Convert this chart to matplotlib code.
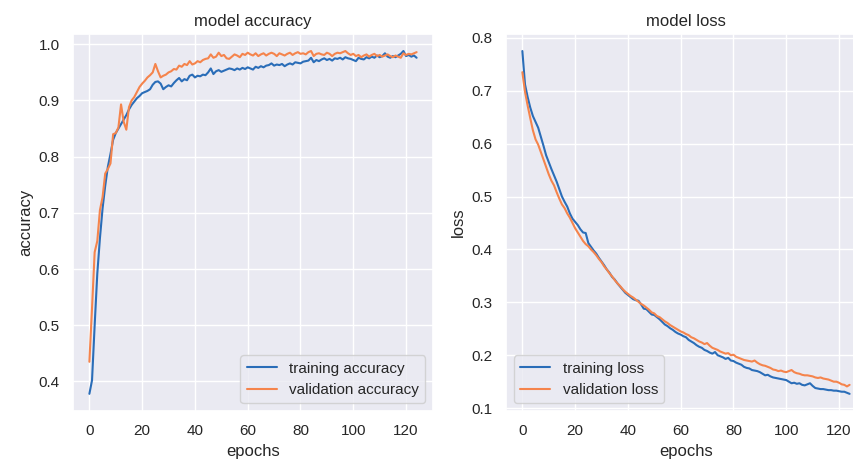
import numpy as np
import matplotlib
matplotlib.use("Agg")
import matplotlib.pyplot as plt
import seaborn as sns

sns.set_theme(style="darkgrid")
plt.rcParams['font.family'] = ['Liberation Sans', 'DejaVu Sans']

# training history, one value per epoch (0..124)
acc = [0.378, 0.402, 0.500, 0.592, 0.655, 0.708, 0.748, 0.782, 0.805, 0.830,
       0.842, 0.850, 0.858, 0.866, 0.874, 0.884, 0.892, 0.898, 0.904, 0.908,
       0.913, 0.915, 0.917, 0.920, 0.928, 0.933, 0.934, 0.930, 0.920, 0.924,
       0.927, 0.925, 0.931, 0.936, 0.940, 0.934, 0.938, 0.936, 0.944, 0.946,
       0.941, 0.944, 0.943, 0.946, 0.945, 0.950, 0.957, 0.947, 0.952, 0.954,
       0.951, 0.953, 0.955, 0.957, 0.956, 0.954, 0.957, 0.955, 0.958, 0.956,
       0.959, 0.957, 0.955, 0.960, 0.958, 0.961, 0.959, 0.962, 0.963, 0.966,
       0.962, 0.964, 0.963, 0.965, 0.961, 0.964, 0.966, 0.964, 0.968, 0.967,
       0.966, 0.969, 0.970, 0.971, 0.976, 0.968, 0.972, 0.970, 0.973, 0.975,
       0.972, 0.974, 0.971, 0.975, 0.974, 0.976, 0.973, 0.977, 0.975, 0.974,
       0.972, 0.970, 0.976, 0.974, 0.973, 0.977, 0.975, 0.978, 0.976, 0.980,
       0.977, 0.979, 0.984, 0.978, 0.976, 0.979, 0.977, 0.980, 0.983, 0.988,
       0.979, 0.981, 0.978, 0.980, 0.976]
val_acc = [0.435, 0.530, 0.630, 0.650, 0.705, 0.728, 0.770, 0.778, 0.788, 0.840,
           0.842, 0.852, 0.893, 0.862, 0.848, 0.888, 0.900, 0.906, 0.915, 0.924,
           0.930, 0.935, 0.941, 0.945, 0.950, 0.965, 0.952, 0.941, 0.944, 0.946,
           0.950, 0.952, 0.956, 0.955, 0.962, 0.960, 0.965, 0.963, 0.970, 0.964,
           0.966, 0.970, 0.968, 0.972, 0.974, 0.975, 0.982, 0.976, 0.978, 0.985,
           0.979, 0.981, 0.975, 0.974, 0.978, 0.982, 0.980, 0.977, 0.983, 0.981,
           0.985, 0.982, 0.980, 0.984, 0.979, 0.982, 0.984, 0.980, 0.983, 0.985,
           0.983, 0.979, 0.984, 0.982, 0.980, 0.983, 0.985, 0.981, 0.984, 0.986,
           0.983, 0.984, 0.982, 0.986, 0.988, 0.979, 0.983, 0.984, 0.982, 0.981,
           0.985, 0.983, 0.979, 0.983, 0.985, 0.984, 0.986, 0.988, 0.984, 0.981,
           0.983, 0.979, 0.981, 0.977, 0.980, 0.982, 0.978, 0.981, 0.983, 0.979,
           0.981, 0.978, 0.980, 0.982, 0.979, 0.977, 0.980, 0.978, 0.976, 0.984,
           0.981, 0.983, 0.982, 0.984, 0.986]
loss = [0.775, 0.712, 0.688, 0.668, 0.652, 0.641, 0.630, 0.613, 0.596, 0.578,
        0.565, 0.552, 0.540, 0.528, 0.514, 0.500, 0.490, 0.481, 0.468, 0.458,
        0.452, 0.446, 0.438, 0.432, 0.431, 0.412, 0.405, 0.398, 0.392, 0.384,
        0.377, 0.370, 0.362, 0.356, 0.348, 0.343, 0.336, 0.330, 0.324, 0.318,
        0.314, 0.310, 0.306, 0.304, 0.303, 0.296, 0.288, 0.287, 0.282, 0.277,
        0.276, 0.272, 0.268, 0.263, 0.258, 0.255, 0.251, 0.248, 0.244, 0.241,
        0.239, 0.236, 0.234, 0.229, 0.226, 0.223, 0.219, 0.216, 0.214, 0.210,
        0.208, 0.205, 0.203, 0.206, 0.200, 0.198, 0.196, 0.193, 0.195, 0.190,
        0.189, 0.186, 0.184, 0.182, 0.178, 0.176, 0.175, 0.172, 0.171, 0.170,
        0.168, 0.165, 0.162, 0.163, 0.160, 0.158, 0.157, 0.156, 0.155, 0.154,
        0.153, 0.150, 0.147, 0.148, 0.146, 0.147, 0.144, 0.143, 0.145, 0.147,
        0.142, 0.138, 0.137, 0.136, 0.136, 0.135, 0.134, 0.134, 0.133, 0.133,
        0.132, 0.131, 0.131, 0.129, 0.127]
val_loss = [0.735, 0.698, 0.672, 0.648, 0.625, 0.608, 0.598, 0.584, 0.570, 0.556,
            0.542, 0.530, 0.521, 0.508, 0.496, 0.485, 0.478, 0.468, 0.460, 0.450,
            0.440, 0.432, 0.424, 0.416, 0.410, 0.406, 0.400, 0.395, 0.389, 0.382,
            0.376, 0.368, 0.362, 0.355, 0.349, 0.342, 0.336, 0.331, 0.325, 0.320,
            0.316, 0.312, 0.309, 0.305, 0.301, 0.297, 0.294, 0.290, 0.286, 0.281,
            0.279, 0.274, 0.272, 0.268, 0.264, 0.261, 0.257, 0.254, 0.251, 0.248,
            0.245, 0.243, 0.240, 0.238, 0.234, 0.232, 0.229, 0.226, 0.224, 0.221,
            0.223, 0.218, 0.214, 0.212, 0.210, 0.207, 0.205, 0.203, 0.204, 0.200,
            0.201, 0.197, 0.195, 0.193, 0.191, 0.190, 0.189, 0.188, 0.190, 0.186,
            0.183, 0.181, 0.180, 0.178, 0.176, 0.173, 0.172, 0.170, 0.171, 0.169,
            0.168, 0.170, 0.172, 0.168, 0.166, 0.165, 0.163, 0.162, 0.162, 0.161,
            0.160, 0.158, 0.157, 0.158, 0.156, 0.155, 0.154, 0.152, 0.150, 0.150,
            0.148, 0.145, 0.144, 0.141, 0.144]

blue = '#2a6db8'
orange = '#f5844c'

fig = plt.figure(figsize=(8.54, 4.61), dpi=100)
ax1 = fig.add_axes([0.0855, 0.1085, 0.4215, 0.818])
ax2 = fig.add_axes([0.5925, 0.1085, 0.4215, 0.818])

ax1.plot(acc, color=blue, label='training accuracy')
ax1.plot(val_acc, color=orange, label='validation accuracy')
ax1.set_title('model accuracy')
ax1.set_xlabel('epochs')
ax1.set_ylabel('accuracy')
ax1.legend(loc='lower right')

ax2.plot(loss, color=blue, label='training loss')
ax2.plot(val_loss, color=orange, label='validation loss')
ax2.set_title('model loss')
ax2.set_xlabel('epochs')
ax2.set_ylabel('loss')
ax2.legend(loc='lower left')

fig.savefig('out.png', dpi=100)
